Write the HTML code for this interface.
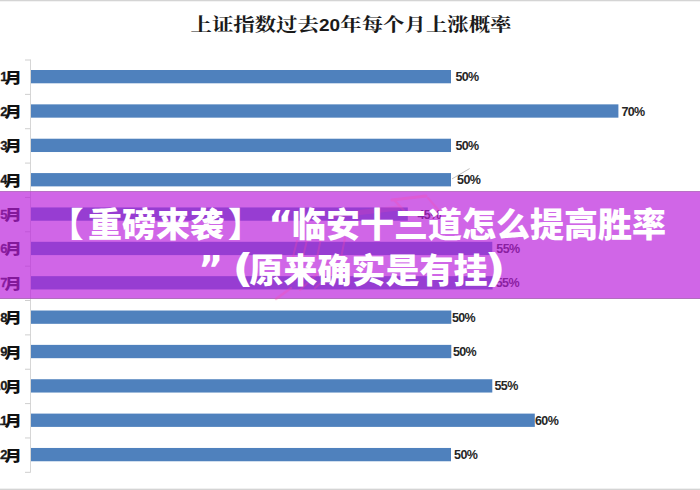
<!DOCTYPE html>
<html><head><meta charset="utf-8">
<style>
html,body{margin:0;padding:0;}
body{width:700px;height:490px;overflow:hidden;background:#fff;position:relative;}
#title{position:absolute;left:0;top:9px;width:700px;text-align:center;font-family:"Liberation Serif","Noto Serif CJK SC",serif;font-weight:700;font-size:21.4px;color:#1a1a1a;line-height:30px;white-space:nowrap;transform:scaleY(0.87);transform-origin:0 23px;padding-left:2px;box-sizing:border-box;}
#title b{font-family:"Liberation Sans",sans-serif;font-weight:700;font-size:19px;letter-spacing:0.15px;}
svg{position:absolute;left:0;top:0;}
.dl{font-family:"Liberation Sans",sans-serif;font-size:12.5px;font-weight:700;letter-spacing:-0.6px;fill:#262626;}
.ml{font-family:"Noto Sans CJK SC",sans-serif;font-size:15px;font-weight:900;fill:#111;}
.mn{font-family:"Liberation Sans",sans-serif;font-weight:700;font-size:13px;fill:#1a1a1a;stroke:#1a1a1a;stroke-width:0.3px;}
#topline{position:absolute;left:0;top:0;width:700px;height:2px;background:linear-gradient(#D4D4D4 0 50%,#F3F3F3 50% 100%);}
#botline{position:absolute;left:0;top:488px;width:700px;height:2px;background:linear-gradient(#F0F0F0 0 50%,#D4D4D4 50% 100%);}
#band{position:absolute;left:0;top:191px;width:700px;height:107.7px;background:rgba(186,30,220,0.68);}
#bt{position:absolute;left:0;top:191px;width:700px;height:1px;background:rgba(150,130,150,0.4);}
#bb{position:absolute;left:0;top:297.5px;width:700px;height:1.2px;background:rgba(140,120,140,0.45);}
.s{position:absolute;white-space:nowrap;color:#fff;line-height:46px;text-spacing-trim:space-all;}
.cj{font-family:"Noto Sans CJK SC",sans-serif;font-weight:900;font-size:34px;}
.dv{font-family:"DejaVu Sans",sans-serif;font-weight:700;font-size:38px;}
.dvp{font-family:"DejaVu Sans",sans-serif;font-weight:700;font-size:39px;transform:scaleX(1.18);transform-origin:50% 50%;}
</style></head><body>
<div id="title">上证指数过去<b>20</b>年每个月上涨概率</div>
<svg width="700" height="490" viewBox="0 0 700 490">
<line x1="30.5" y1="59.5" x2="30.5" y2="472.5" stroke="#D6D6D6" stroke-width="1"/>
<line x1="25" y1="60.00" x2="30.5" y2="60.00" stroke="#CFCFCF" stroke-width="1"/>
<line x1="25" y1="94.36" x2="30.5" y2="94.36" stroke="#CFCFCF" stroke-width="1"/>
<line x1="25" y1="128.72" x2="30.5" y2="128.72" stroke="#CFCFCF" stroke-width="1"/>
<line x1="25" y1="163.08" x2="30.5" y2="163.08" stroke="#CFCFCF" stroke-width="1"/>
<line x1="25" y1="197.44" x2="30.5" y2="197.44" stroke="#CFCFCF" stroke-width="1"/>
<line x1="25" y1="231.80" x2="30.5" y2="231.80" stroke="#CFCFCF" stroke-width="1"/>
<line x1="25" y1="266.16" x2="30.5" y2="266.16" stroke="#CFCFCF" stroke-width="1"/>
<line x1="25" y1="300.52" x2="30.5" y2="300.52" stroke="#CFCFCF" stroke-width="1"/>
<line x1="25" y1="334.88" x2="30.5" y2="334.88" stroke="#CFCFCF" stroke-width="1"/>
<line x1="25" y1="369.24" x2="30.5" y2="369.24" stroke="#CFCFCF" stroke-width="1"/>
<line x1="25" y1="403.60" x2="30.5" y2="403.60" stroke="#CFCFCF" stroke-width="1"/>
<line x1="25" y1="437.96" x2="30.5" y2="437.96" stroke="#CFCFCF" stroke-width="1"/>
<line x1="25" y1="472.32" x2="30.5" y2="472.32" stroke="#CFCFCF" stroke-width="1"/>
<rect x="31" y="70.00" width="420.00" height="13.3" fill="#4F81BD"/>
<text class="dl" x="455.4" y="81.25">50%</text>
<text class="ml" transform="translate(22.0 82.65) scale(1.16 1)" text-anchor="end">月</text>
<text class="mn" x="7.6" y="81.15" text-anchor="end">1</text>
<rect x="31" y="104.36" width="587.40" height="13.3" fill="#4F81BD"/>
<text class="dl" x="621.4" y="115.61">70%</text>
<text class="ml" transform="translate(22.0 117.01) scale(1.16 1)" text-anchor="end">月</text>
<text class="mn" x="7.6" y="115.51" text-anchor="end">2</text>
<rect x="31" y="138.72" width="420.00" height="13.3" fill="#4F81BD"/>
<text class="dl" x="455.4" y="149.97">50%</text>
<text class="ml" transform="translate(22.0 151.37) scale(1.16 1)" text-anchor="end">月</text>
<text class="mn" x="7.6" y="149.87" text-anchor="end">3</text>
<rect x="31" y="173.08" width="420.00" height="13.3" fill="#4F81BD"/>
<text class="dl" x="457.1" y="184.33">50%</text>
<text class="ml" transform="translate(22.0 185.73) scale(1.16 1)" text-anchor="end">月</text>
<text class="mn" x="7.6" y="184.23" text-anchor="end">4</text>
<rect x="31" y="207.44" width="376.80" height="13.3" fill="#4F81BD"/>
<text class="dl" x="417.5" y="218.69">45%</text>
<text class="ml" transform="translate(22.0 220.09) scale(1.16 1)" text-anchor="end">月</text>
<text class="mn" x="7.6" y="218.59" text-anchor="end">5</text>
<rect x="31" y="241.80" width="461.30" height="13.3" fill="#4F81BD"/>
<text class="dl" x="496.3" y="253.05">55%</text>
<text class="ml" transform="translate(22.0 254.45) scale(1.16 1)" text-anchor="end">月</text>
<text class="mn" x="7.6" y="252.95" text-anchor="end">6</text>
<rect x="31" y="276.16" width="461.60" height="13.3" fill="#4F81BD"/>
<text class="dl" x="495.7" y="287.41">55%</text>
<text class="ml" transform="translate(22.0 288.81) scale(1.16 1)" text-anchor="end">月</text>
<text class="mn" x="7.6" y="287.31" text-anchor="end">7</text>
<rect x="31" y="310.52" width="420.30" height="13.3" fill="#4F81BD"/>
<text class="dl" x="451.9" y="321.77">50%</text>
<text class="ml" transform="translate(22.0 323.17) scale(1.16 1)" text-anchor="end">月</text>
<text class="mn" x="7.6" y="321.67" text-anchor="end">8</text>
<rect x="31" y="344.88" width="420.30" height="13.3" fill="#4F81BD"/>
<text class="dl" x="452.9" y="356.13">50%</text>
<text class="ml" transform="translate(22.0 357.53) scale(1.16 1)" text-anchor="end">月</text>
<text class="mn" x="7.6" y="356.03" text-anchor="end">9</text>
<rect x="31" y="379.24" width="461.30" height="13.3" fill="#4F81BD"/>
<text class="dl" x="494.5" y="390.49">55%</text>
<text class="ml" transform="translate(22.0 391.89) scale(1.16 1)" text-anchor="end">月</text>
<text class="mn" x="7.6" y="390.39" text-anchor="end">10</text>
<rect x="31" y="413.60" width="503.80" height="13.3" fill="#4F81BD"/>
<text class="dl" x="535.0" y="424.85">60%</text>
<text class="ml" transform="translate(22.0 426.25) scale(1.16 1)" text-anchor="end">月</text>
<text class="mn" x="7.6" y="424.75" text-anchor="end">11</text>
<rect x="31" y="447.96" width="420.00" height="13.3" fill="#4F81BD"/>
<text class="dl" x="454.1" y="459.21">50%</text>
<text class="ml" transform="translate(22.0 460.61) scale(1.16 1)" text-anchor="end">月</text>
<text class="mn" x="7.6" y="459.11" text-anchor="end">12</text>
<line x1="452" y1="178.9" x2="469.6" y2="168.6" stroke="#BFBFBF" stroke-width="1"/>
</svg>
<div id="botline"></div><div id="topline"></div>
<div id="band"></div><div id="bt"></div><div id="bb"></div>
<svg id="wm" width="700" height="490" viewBox="0 0 700 490" style="position:absolute;left:0;top:0;">
<g fill="none" stroke="rgb(255,70,170)" stroke-linecap="round" opacity="0.28">
<path d="M276 299 L291 288" stroke-width="2.5"/>
<path d="M392 200 L426 196" stroke-width="3"/>
<path d="M395 201 L409 216" stroke-width="2.5"/>
<path d="M428 198 L441 213" stroke-width="2"/>
<path d="M297 241 L293 257 M307 240 L303 257 M321 238 L317 258 M345 238 L341 258" stroke-width="2"/>
<path d="M330 216 L398 208" stroke-width="5" opacity="0.6"/>
<path d="M300 290 L330 262 M315 288 L345 262" stroke-width="2"/>
</g></svg>
<span class="s cj" style="left:49.5px;top:199.5px;">【</span><span class="s cj" style="left:88px;top:199.5px;">重磅来袭</span><span class="s cj" style="left:228px;top:199.5px;">】</span><span class="s dv" style="left:268.2px;top:201.0px;">“</span><span class="s cj" style="left:292px;top:199.5px;">临安十三道怎么提高胜率</span><span class="s dv" style="left:198.2px;top:245.5px;">”</span><span class="s dvp" style="left:234px;top:245.5px;">(</span><span class="s cj" style="left:249.5px;top:245.5px;">原来确实是有挂</span><span class="s dvp" style="left:486px;top:245.5px;">)</span>
</body></html>
